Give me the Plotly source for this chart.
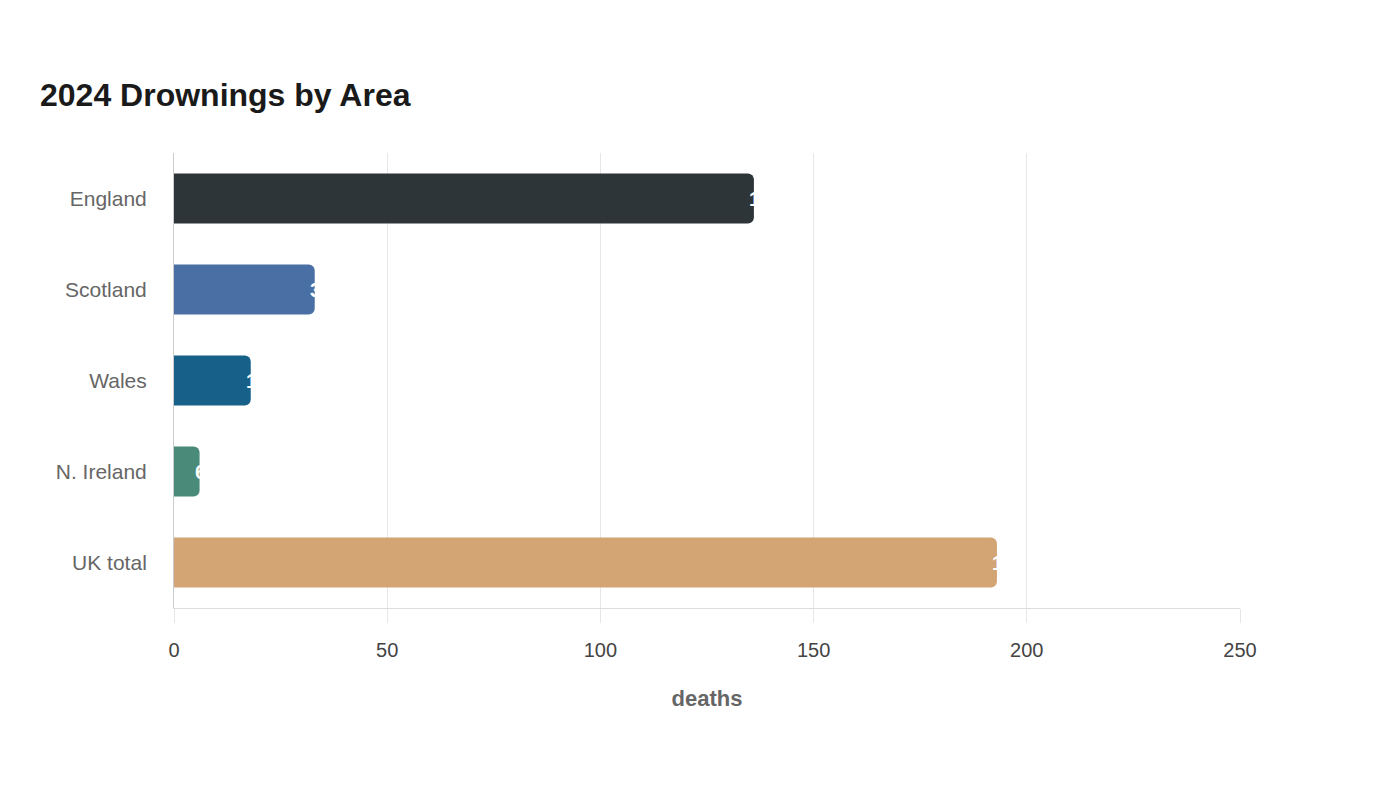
import plotly.graph_objects as go

areas = ["England", "Scotland", "Wales", "N. Ireland", "UK total"]
deaths = [136, 33, 18, 6, 193]
colors = ["#2d3538", "#4a6fa5", "#17608a", "#4a8a78", "#d4a574"]
x_ticks = [0, 50, 100, 150, 200, 250]

fig = go.Figure()
fig.add_trace(go.Bar(
    y=areas, x=deaths, orientation="h",
    marker=dict(color=colors, cornerradius=6, line=dict(width=0)),
    width=0.55,
    hoverinfo="skip",
))

for a, v in zip(areas, deaths):
    fig.add_annotation(x=v, y=a, text=str(v), showarrow=False,
                       xanchor="left", xshift=-7,
                       font=dict(color="white", size=20, family="Liberation Sans, Arial", weight="bold"))

fig.update_layout(
    width=1400, height=800,
    paper_bgcolor="white", plot_bgcolor="white",
    margin=dict(l=174, r=160, t=153, b=192),
    title=dict(text="<b>2024 Drownings by Area</b>", x=40/1400, xanchor="left",
               y=1-95/800, yanchor="middle",
               font=dict(size=32, color="#1a1a1a", family="Liberation Sans, Arial")),
    font=dict(family="Liberation Sans, Arial"),
    showlegend=False,
    xaxis=dict(range=[0, 250], tickvals=x_ticks, showgrid=True, gridcolor="#e6e6e6", gridwidth=1,
               zeroline=False, showline=True, linecolor="#dddddd", linewidth=1,
               ticks="outside", ticklen=14, tickcolor="#e6e6e6", ticklabelstandoff=10,
               tickfont=dict(size=20, color="#444444"),
               title=dict(text="<b>deaths</b>", font=dict(size=22, color="#666666"), standoff=30)),
    yaxis=dict(autorange="reversed", showline=True, linecolor="#cccccc", linewidth=1,
               showgrid=False, ticks="", ticklabelstandoff=22,
               tickfont=dict(size=21, color="#666666")),
)

fig.write_html("out.html")
